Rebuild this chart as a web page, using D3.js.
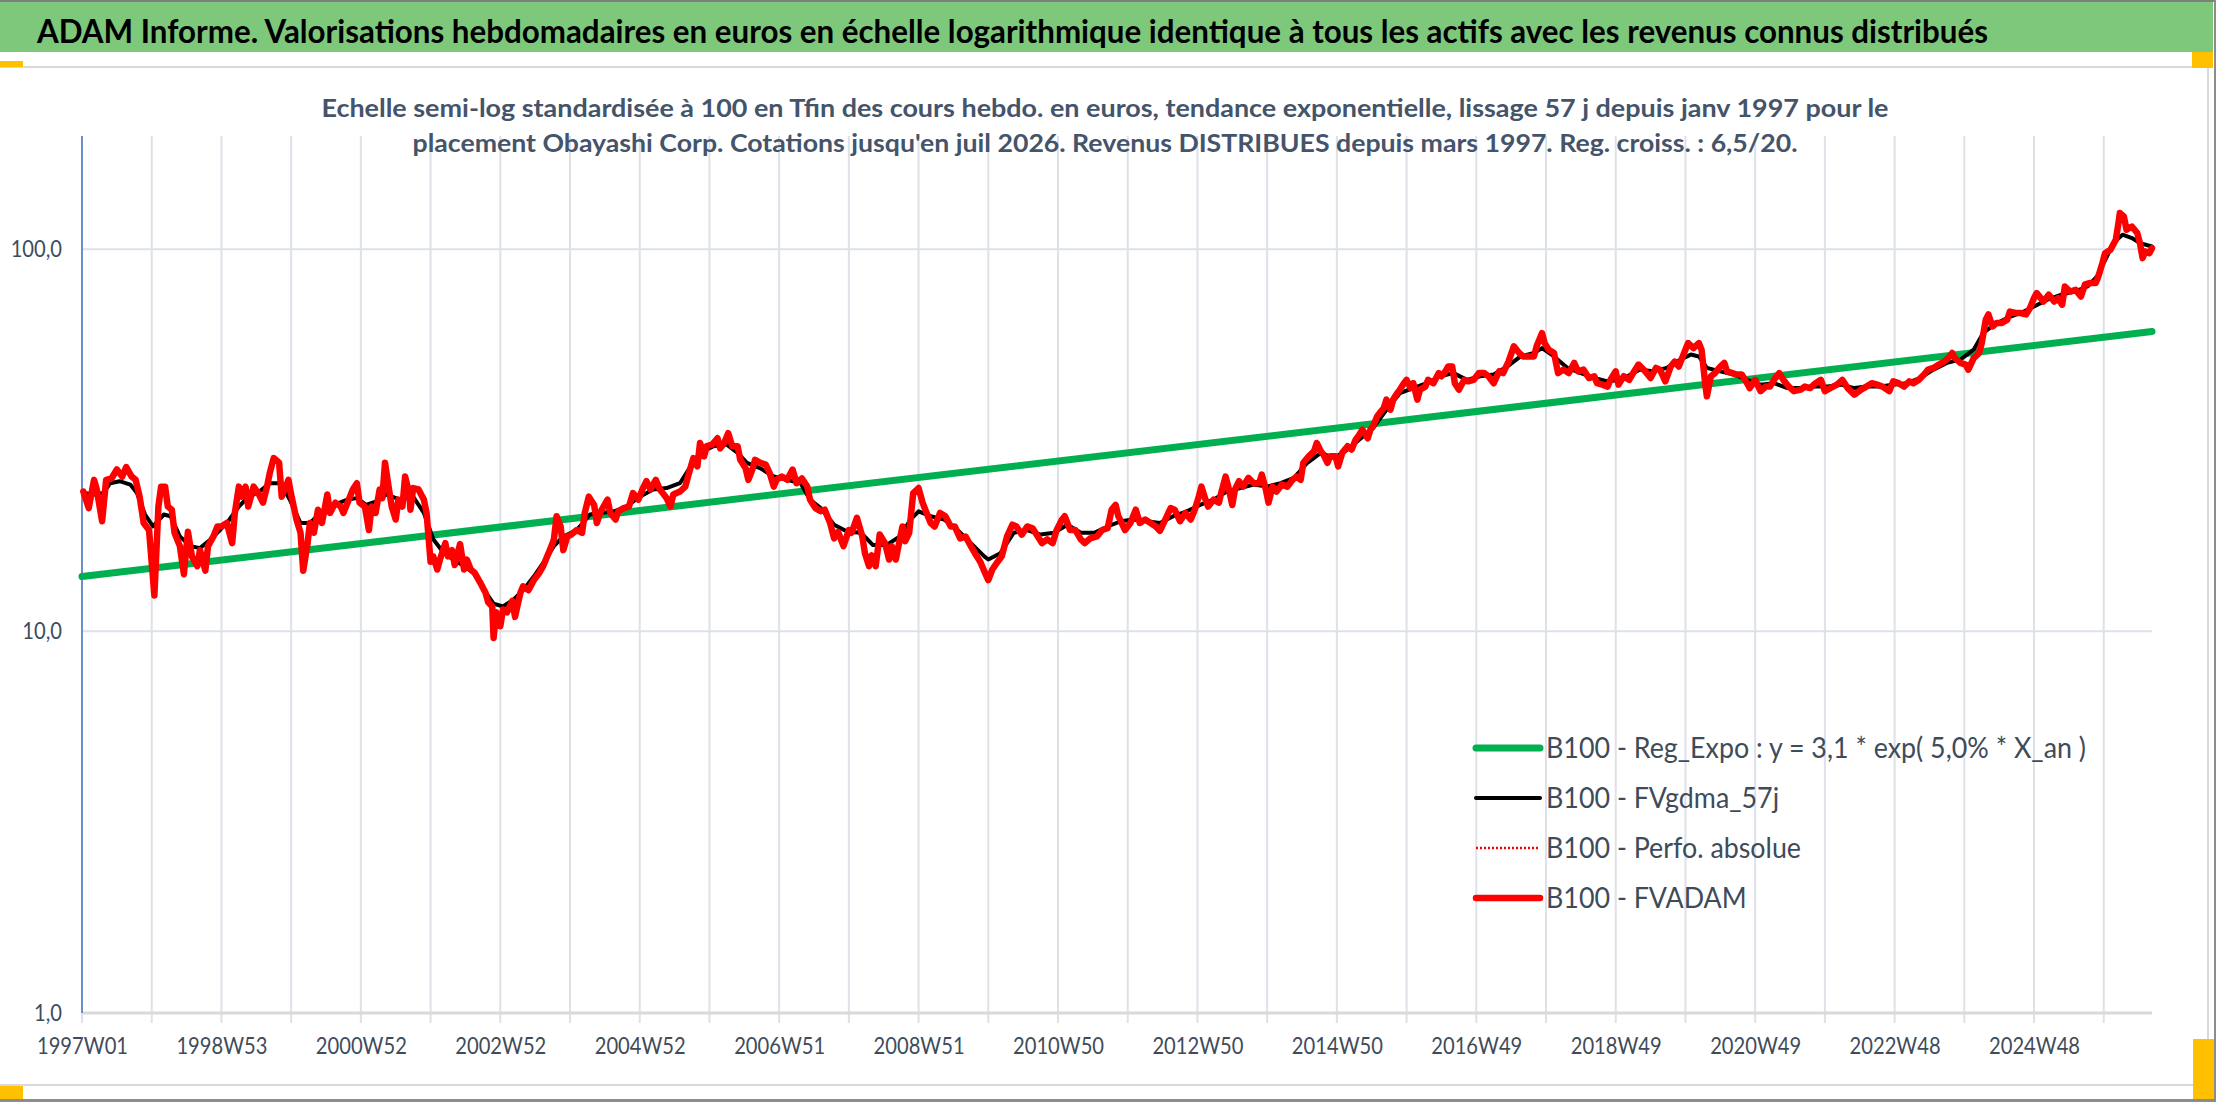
<!DOCTYPE html>
<html>
<head>
<meta charset="utf-8">
<script src="https://cdn.jsdelivr.net/npm/d3@7"></script>
<style>
body { margin: 0; background: #fff; }
svg text { font-family: Lato, 'Open Sans', sans-serif; }
</style>
</head>
<body>
<svg id="chart" width="2216" height="1102"></svg>
<script>
// tick labels of the category axis (one every 104 weeks)
var weekLabels = ['1997W01', '1998W53', '2000W52', '2002W52', '2004W52', '2006W51', '2008W51', '2010W50',
    '2012W50', '2014W50', '2016W49', '2018W49', '2020W49', '2022W48', '2024W48'];
var yTicks = [1, 10, 100];
var nWeeks = 1545;

// B100 - FVADAM (week index from 1997W01, value)
var redWeeks = [1, 5, 9, 11, 15, 18, 22, 26, 30, 33, 37, 40, 43, 46, 50, 54, 57, 59, 62, 64, 67, 69, 73, 76, 79, 82, 86, 88, 92, 94,
    98, 101, 104, 108, 112, 114, 117, 119, 122, 124, 128, 132, 135, 138, 140, 143, 147, 149, 152, 154, 156, 160, 163, 165, 168, 170,
    173, 176, 179, 183, 185, 189, 193, 195, 199, 202, 205, 207, 211, 214, 216, 219, 222, 224, 226, 229, 231, 234, 236, 239, 241, 244,
    245, 247, 251, 255, 257, 260, 262, 265, 267, 271, 273, 276, 278, 282, 285, 287, 290, 293, 297, 301, 303, 306, 307, 309, 312, 314,
    317, 321, 323, 327, 329, 333, 337, 341, 344, 347, 349, 352, 354, 357, 359, 362, 365, 369, 373, 375, 378, 382, 384, 387,
    389, 392, 394, 398, 400, 404, 408, 411, 415, 418, 421, 424, 428, 431, 434, 436, 439, 441, 446, 450, 452, 456, 459, 461, 464, 466,
    470, 474, 476, 479, 482, 485, 489, 491, 495, 497, 500, 502, 506, 510, 513, 516, 518, 522, 526, 530, 533, 537, 541, 543, 547, 551,
    554, 558, 561, 564, 568, 572, 574, 578, 582, 584, 587, 589, 592, 595, 599, 602, 604, 607, 609, 612, 614, 617, 620, 624, 627, 629,
    633, 636, 640, 644, 648, 651, 655, 659, 663, 666, 670, 674, 676, 679, 683, 686, 690, 694, 697, 701, 705, 709, 712, 716, 720, 724,
    727, 731, 733, 737, 741, 745, 748, 752, 757, 761, 765, 768, 771, 773,
    778, 782, 786, 789, 793, 797, 801, 804, 808, 812, 815, 819, 823, 827, 830, 833, 835, 838, 840, 844, 848, 850, 853, 855, 858, 860,
    863, 866, 870, 874, 878, 880, 883, 885, 888, 891, 895, 899, 903, 906, 909, 911, 915, 919, 921, 924, 926, 929, 931, 935, 937, 940,
    944, 947, 950, 952, 955, 959, 961, 963, 966, 968, 971, 973, 976, 978, 981, 983, 986, 988, 991, 993, 996, 998, 1002, 1004, 1008,
    1012, 1014, 1017, 1019, 1022, 1024, 1027, 1031, 1034, 1038, 1042, 1046, 1049, 1053, 1057, 1060, 1064, 1068, 1072, 1075, 1079,
    1083, 1085, 1089, 1091, 1094, 1098, 1101, 1105, 1109, 1113, 1116, 1120, 1124, 1128, 1130, 1134, 1138, 1140, 1144, 1146, 1150,
    1154, 1157, 1161,
    1166, 1170, 1174, 1177, 1181, 1185, 1188, 1191, 1195, 1198, 1202, 1206, 1208, 1211, 1212, 1215, 1218, 1222, 1225, 1227, 1231,
    1234, 1238, 1242, 1244, 1248, 1252, 1256, 1259, 1263, 1266, 1269, 1273, 1277, 1282, 1285, 1289, 1293, 1297, 1300, 1304, 1309,
    1313, 1317, 1322, 1327, 1331, 1335, 1339, 1343, 1348, 1351, 1355, 1359, 1363, 1366, 1370, 1374, 1377, 1381, 1385, 1389, 1392,
    1395, 1397, 1401, 1405, 1407, 1411, 1415, 1417, 1420, 1422, 1425, 1428, 1432, 1436, 1438, 1442, 1446, 1450, 1453, 1456, 1458,
    1461, 1463, 1467, 1471, 1474, 1477, 1479, 1483, 1487, 1491, 1494, 1498, 1502, 1504, 1507, 1509, 1513, 1517, 1519, 1520, 1523,
    1525, 1529, 1533, 1535, 1537, 1539, 1542, 1544];
var redValues = [23.2, 21.0, 24.9, 23.5, 19.4, 24.9, 25.1, 26.5, 25.4, 26.9, 25.4, 24.9, 22.5, 19.2, 18.4, 12.4, 21.2, 23.9, 23.9, 21.2,
    20.8, 18.1, 16.7, 14.1, 18.2, 15.7, 14.8, 16.3, 14.4, 16.7,
    17.7, 18.8, 18.8, 19.2, 17.0, 20.4, 23.9, 22.5, 23.9, 21.2, 23.9, 22.8, 21.7, 23.9, 25.9, 28.4, 27.6, 22.5, 23.9, 24.9, 22.8, 19.6,
    18.1, 14.4, 16.7, 19.2,
    18.1, 20.8, 19.2, 22.8, 20.4, 21.7, 21.2, 20.4, 22.1, 23.5, 24.4, 21.7, 21.2, 18.4, 21.2, 20.4, 23.5, 22.3, 27.6, 23.5, 21.2, 19.6,
    22.1, 21.2, 25.4, 23.0,
    20.8, 23.7, 23.5, 22.1, 20.4, 15.2, 15.7, 14.5, 15.4, 17.0, 15.7, 16.3, 14.9, 16.9, 14.5, 15.4, 14.5, 14.2, 13.4, 12.6, 11.9, 11.6,
    9.6, 11.2, 10.3, 11.4,
    11.2, 12.0, 10.9, 12.6, 13.1, 12.8, 13.6, 14.2, 14.8, 15.7, 16.3, 17.4, 20.0, 18.8, 16.3, 17.7, 17.9, 18.4, 18.1, 20.4, 22.5, 21.4,
    19.2, 20.6,
    21.2, 22.1, 20.4, 19.6, 20.6, 21.0, 21.2, 23.0, 22.1, 23.5, 24.7, 23.5, 24.9, 23.5, 22.8, 22.3, 21.2, 22.8, 23.2, 23.9, 25.4, 28.4,
    27.0, 31.1, 28.7, 30.5,
    30.8, 32.0, 30.1, 31.1, 33.0, 30.5, 30.5, 28.1, 26.7, 24.9, 26.5, 28.1, 27.6, 27.3, 25.9, 23.9, 24.9, 25.4, 24.9, 26.5, 24.4, 25.1,
    23.9, 22.1, 21.0, 20.6,
    20.8, 19.2, 17.5, 18.2, 16.7, 18.4, 18.1, 19.8, 17.7, 16.0, 14.8, 15.8, 14.8, 17.9, 17.0, 15.4, 16.7, 15.4, 16.7, 18.8, 17.2, 18.1,
    23.0, 23.7, 21.7, 20.8,
    19.2, 18.8, 20.4, 20.0, 18.8, 18.8, 17.5, 17.7, 16.7, 16.0, 15.2, 14.1, 13.6, 14.5, 15.2, 15.7, 17.7, 19.0, 18.8, 17.9, 18.8, 18.6,
    17.9, 17.0, 17.4, 17.0,
    18.4, 19.6, 20.0, 18.4, 18.4, 17.4, 17.0, 17.5, 17.7, 18.4, 18.6, 20.8, 21.4, 20.0,
    18.4, 19.2, 20.8, 19.2, 19.6, 19.2, 18.8, 18.3, 19.6, 21.0, 20.8, 19.4, 20.4, 19.6, 20.8, 22.5, 23.9, 22.1, 21.2, 22.1, 21.7, 23.2,
    25.4, 23.9, 21.4, 23.5,
    24.7, 23.9, 25.2, 24.4, 24.4, 25.7, 23.5, 21.7, 23.9, 23.2, 24.2, 23.9, 24.9, 25.4, 24.9, 27.6, 28.7, 29.6, 31.1, 29.6, 29.0, 27.6,
    28.7, 28.7, 27.0, 29.3,
    30.5, 29.9, 31.7, 32.4, 33.7, 32.0, 33.7, 34.4, 36.5, 37.3, 38.4, 40.4, 38.0, 40.4, 42.0, 42.9, 44.6, 45.5, 43.3, 44.6, 40.4, 42.9,
    43.7, 45.5, 44.6,
    47.4, 46.5, 47.9, 49.3, 49.3, 44.6, 42.9, 45.5, 45.1, 45.5, 47.4, 47.4, 46.5, 44.6, 47.9, 47.4, 50.8, 55.7, 53.5, 52.4, 52.4,
    52.4, 55.7, 60.3, 56.8, 54.6, 53.5, 47.4, 48.4, 47.4, 50.4, 47.9, 48.4, 46.0, 46.5, 44.6, 44.2, 43.7, 45.5, 47.9, 44.2, 46.5,
    45.5, 47.4, 49.9,
    47.9, 46.0, 48.9, 48.4, 45.1, 49.3, 50.8, 49.3, 53.5, 56.8, 55.1, 56.8, 54.6, 43.7, 41.2, 46.5, 47.4, 49.3, 50.4, 47.9, 47.4,
    47.0, 47.0, 44.6, 43.3, 45.5, 42.5, 43.7, 43.7, 46.0, 47.4, 45.5, 43.7, 42.5, 42.9, 43.7, 43.3, 44.6, 45.5, 42.5, 43.3, 44.2,
    45.5, 43.3, 41.6, 42.9, 43.7, 44.6, 44.2, 43.7, 42.5, 45.1, 44.6, 43.7, 45.1, 44.6, 45.5, 47.0, 48.4, 48.9, 49.9, 50.8, 51.9,
    53.5, 51.9, 50.4, 49.9, 48.4, 51.9, 53.5, 56.8, 65.4, 67.5, 62.8, 64.1, 64.1, 65.4, 68.7, 68.1, 68.1, 67.5, 70.2, 74.5, 76.8,
    74.5, 73.0, 76.0, 73.0, 74.5, 71.6, 79.9, 77.5, 78.3, 75.2, 80.9, 81.6, 81.6, 84.9, 92.0, 97.7, 99.7, 105.9, 117.1, 124.4, 121.9,
    112.5, 114.7, 110.3, 103.8, 94.8, 98.7, 97.7, 100.7];

// B100 - FVgdma_57j
var blackWeeks = [1, 9, 16, 21, 28, 36, 41, 47, 53, 61, 66, 73, 81, 88, 96, 103, 110, 117, 123, 133, 140, 148, 155, 163, 170, 178,
    188, 198, 205, 212, 220, 227, 237, 247, 255, 262, 270, 277, 285, 292, 300, 307, 314, 322, 329, 337, 344, 352, 359, 369, 379, 387,
    397, 406, 416, 426, 436, 446, 454, 461, 471, 481, 489, 496, 506, 516, 526, 536, 543, 551, 561, 571, 581, 590, 600, 610, 618, 624,
    633, 643, 653, 663, 673, 676, 685, 695, 705, 715, 725, 735, 745, 755, 765, 775,
    784, 794, 804, 814, 824, 834, 844, 854, 864, 874, 884, 894, 904, 914, 924, 934, 944, 954, 963, 973, 983, 993, 1003, 1013, 1023,
    1033, 1043, 1053, 1063, 1073, 1083, 1089, 1098, 1108, 1118, 1128, 1138, 1148, 1157,
    1162, 1172, 1182, 1192, 1200, 1206, 1212, 1222, 1232, 1242, 1252, 1262, 1272, 1282, 1292, 1302, 1312, 1322, 1331, 1341, 1351,
    1361, 1371, 1381, 1391, 1401, 1411, 1418, 1426, 1436, 1446, 1456, 1466, 1476, 1486, 1496, 1503, 1511, 1515, 1522, 1529, 1535, 1544];
var blackValues = [23.0, 22.8, 23.0, 24.4, 24.7, 24.2, 23.0, 20.2, 18.8, 20.2, 20.0, 17.7, 16.7, 16.5, 17.4, 18.4, 19.6, 21.2, 22.3,
    23.3, 24.4, 24.4, 22.1, 19.2, 19.2, 20.4,
    21.4, 22.1, 22.3, 21.4, 21.9, 22.8, 22.1, 22.5, 20.4, 17.4, 16.0, 15.4, 14.8, 14.2, 12.8, 11.8, 11.6, 12.1, 12.8, 13.9, 15.1, 16.7,
    17.7, 18.4, 20.2, 20.4,
    20.6, 21.2, 22.5, 23.5, 23.7, 24.4, 27.0, 29.3, 30.5, 30.8, 29.3, 27.6, 26.7, 25.4, 24.9, 24.4, 22.1, 21.0, 19.0, 18.2, 18.1, 16.8,
    16.8, 17.7, 19.6, 20.6,
    20.0, 19.6, 18.4, 17.0, 15.7, 15.4, 16.0, 18.1, 18.4, 17.9, 18.1, 19.0, 18.1, 18.1, 18.8, 19.4,
    19.6, 19.4, 19.2, 20.0, 20.6, 21.4, 22.1, 23.2, 23.7, 24.2, 23.9, 24.4, 25.2, 27.6, 29.3, 28.4, 29.9, 32.0, 34.0, 38.0, 42.0,
    43.3, 44.6, 46.5, 47.4,
    45.5, 46.5, 47.0, 49.3, 52.4, 53.5, 55.1, 52.4, 48.9, 47.4, 46.0, 45.1, 45.5, 47.4,
    48.4, 47.9, 48.9, 51.4, 53.0, 52.4, 48.9, 47.9, 47.0, 45.5, 44.2, 44.6, 43.3, 43.3, 43.7, 43.7, 44.2, 43.3, 43.7, 43.7, 44.2,
    44.6, 46.0, 48.4, 50.4, 51.4, 54.6, 60.3, 63.4, 66.1, 68.1, 70.8, 73.8, 76.0, 77.5, 79.9, 84.9, 96.7, 103.8, 109.2, 107.0,
    103.8, 101.7];

// B100 - Reg_Expo : y = 3,1 * exp( 5,0% * X_an ), straight on the log axis
var regWeeks = [0, 1544];
var regValues = [13.9, 60.9];

var series = [
    {name: 'B100 - Reg_Expo : y = 3,1 * exp( 5,0% *  X_an )', color: '#00B050', width: 7, dash: null},
    {name: 'B100 - FVgdma_57j', color: '#000000', width: 4, dash: null},
    {name: 'B100 - Perfo. absolue', color: '#FF0000', width: 2, dash: '2,2'},
    {name: 'B100 - FVADAM', color: '#FF0000', width: 6.5, dash: null}
];

var svg = d3.select('#chart');
var txtColor = '#404B5A';

// squeeze a text to a given width (the source font is a narrow one)
fit = function(sel, w){
    sel.each(function(){
        this.setAttribute('textLength', w);
        this.setAttribute('lengthAdjust', 'spacingAndGlyphs');
    });
}
squeeze = function(sel, f){
    sel.each(function(){
        var w = this.getComputedTextLength();
        this.setAttribute('textLength', w * f);
        this.setAttribute('lengthAdjust', 'spacingAndGlyphs');
    });
}

// window / frame
svg.append('rect').attr('x', 0).attr('y', 0).attr('width', 2216).attr('height', 1102).attr('fill', '#fff');
svg.append('rect').attr('x', -2).attr('y', 67).attr('width', 2210).attr('height', 1018)
    .attr('fill', '#fff').attr('stroke', '#D9D9D9').attr('stroke-width', 2);
svg.append('rect').attr('x', 0).attr('y', 2).attr('width', 2213).attr('height', 50).attr('fill', '#7DC87B');
svg.append('rect').attr('x', 0).attr('y', 0).attr('width', 2216).attr('height', 2).attr('fill', '#7F7F7F');
svg.append('rect').attr('x', 2214).attr('y', 0).attr('width', 2).attr('height', 1102).attr('fill', '#8C8C8C');
svg.append('rect').attr('x', 0).attr('y', 1099).attr('width', 2216).attr('height', 3).attr('fill', '#8C8C8C');
var handles = [[0, 61, 23, 6], [0, 1086, 23, 13], [2192, 52, 21, 16], [2193, 1039, 21, 60]];
svg.selectAll('.handle').data(handles).enter().append('rect').attr('class', 'handle')
    .attr('x', function(d){ return d[0]; }).attr('y', function(d){ return d[1]; })
    .attr('width', function(d){ return d[2]; }).attr('height', function(d){ return d[3]; })
    .attr('fill', '#FFC000');

// scales
var x = d3.scaleLinear().domain([0, nWeeks - 1]).range([82, 2152]);
var y = d3.scaleLog().domain([1, 198]).range([1013, 136]);

// grid
var grid = svg.append('g');
grid.selectAll('.vgrid').data(d3.range(0, nWeeks, 52)).enter().append('line').attr('class', 'vgrid')
    .attr('x1', function(d){ return x(d); }).attr('x2', function(d){ return x(d); })
    .attr('y1', y.range()[1]).attr('y2', y(1) + 10)
    .attr('stroke', '#DDE1E8').attr('stroke-width', 2);
grid.selectAll('.hgrid').data(yTicks.slice(1)).enter().append('line').attr('class', 'hgrid')
    .attr('x1', x(0)).attr('x2', x(nWeeks - 1))
    .attr('y1', function(d){ return y(d); }).attr('y2', function(d){ return y(d); })
    .attr('stroke', '#DDE1E8').attr('stroke-width', 2);
grid.append('line').attr('x1', x(0)).attr('x2', x(nWeeks - 1)).attr('y1', y(1)).attr('y2', y(1))
    .attr('stroke', '#D9D9D9').attr('stroke-width', 3);
grid.append('line').attr('x1', x(0)).attr('x2', x(0)).attr('y1', y.range()[1]).attr('y2', y(1))
    .attr('stroke', '#4472C4').attr('stroke-width', 1.5);

// titles (drawn over the grid, like the chart title in the source)
var t = svg.append('text').attr('x', 37).attr('y', 43).attr('font-size', 33).attr('font-weight', 'bold')
    .attr('fill', '#000')
    .text('ADAM Informe. Valorisations hebdomadaires en euros en échelle logarithmique identique à tous les actifs avec les revenus connus distribués');
fit(t, 1951);
var s1 = svg.append('text').attr('x', 1105).attr('y', 117).attr('text-anchor', 'middle').attr('font-size', 24)
    .attr('font-weight', 'bold').attr('fill', '#44546A')
    .text('Echelle semi-log standardisée à 100 en Tfin des cours hebdo. en euros, tendance exponentielle, lissage 57 j depuis janv 1997 pour le');
fit(s1, 1567);
var s2 = svg.append('text').attr('x', 1105).attr('y', 152).attr('text-anchor', 'middle').attr('font-size', 24)
    .attr('font-weight', 'bold').attr('fill', '#44546A')
    .text("placement Obayashi Corp. Cotations jusqu'en juil 2026. Revenus DISTRIBUES depuis mars 1997. Reg. croiss. : 6,5/20.");
fit(s2, 1385);

// y axis labels
var yAxis = d3.axisLeft(y).tickValues(yTicks).tickSize(0).tickPadding(20)
    .tickFormat(function(d){ return d3.format('.1f')(d).replace('.', ','); });
var gy = svg.append('g').attr('transform', 'translate(82,0)').call(yAxis);
gy.select('.domain').remove();
gy.selectAll('text').attr('font-size', 24).attr('fill', txtColor).style('font-family', 'Lato');
squeeze(gy.selectAll('text'), 0.84);

// x axis labels
var xAxis = d3.axisBottom(x).tickValues(weekLabels.map(function(d, i){ return i * 104; }))
    .tickSize(0).tickPadding(24).tickFormat(function(d, i){ return weekLabels[i]; });
var gx = svg.append('g').attr('transform', 'translate(0,1013)').call(xAxis);
gx.select('.domain').remove();
gx.selectAll('text').attr('font-size', 24).attr('fill', txtColor).style('font-family', 'Lato');
squeeze(gx.selectAll('text'), 0.84);

// lines
var line = d3.line().x(function(d){ return x(d[0]); }).y(function(d){ return y(d[1]); });
var lineData = [
    d3.zip(regWeeks, regValues),
    d3.zip(blackWeeks, blackValues),
    null,
    d3.zip(redWeeks, redValues)
];
lineData.forEach(function(pts, i){
    if (!pts) return;
    svg.append('path').datum(pts).attr('d', line).attr('fill', 'none')
        .attr('stroke', series[i].color).attr('stroke-width', series[i].width)
        .attr('stroke-linejoin', 'round').attr('stroke-linecap', 'round');
});

// legend
var leg = svg.append('g').attr('transform', 'translate(1476,748)');
var items = leg.selectAll('.item').data(series).enter().append('g').attr('class', 'item')
    .attr('transform', function(d, i){ return 'translate(0,' + (i * 50) + ')'; });
items.append('line').attr('x1', 0).attr('x2', 64).attr('y1', 0).attr('y2', 0)
    .attr('stroke', function(d){ return d.color; })
    .attr('stroke-width', function(d){ return d.dash ? 2.5 : d.width; })
    .attr('stroke-dasharray', function(d){ return d.dash; })
    .attr('stroke-linecap', function(d){ return d.dash ? 'butt' : 'round'; });
var legText = items.append('text').attr('x', 70).attr('y', 0).attr('dy', '0.35em').attr('font-size', 28)
    .attr('fill', txtColor).text(function(d){ return d.name; });
var f = 540 / legText.node().getComputedTextLength();
squeeze(legText, f);
</script>
</body>
</html>
